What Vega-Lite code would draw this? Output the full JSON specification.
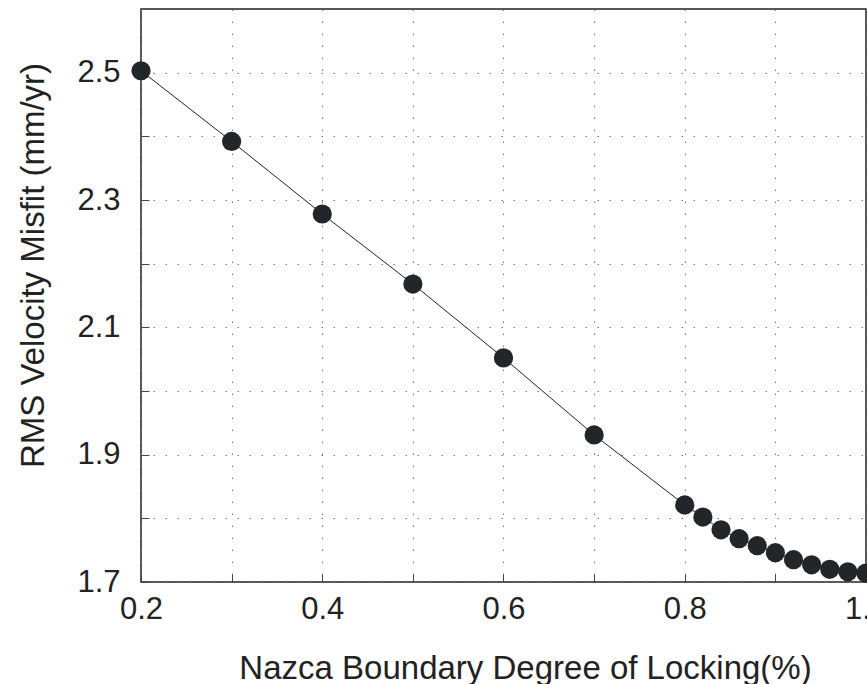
{
  "$schema": "https://vega.github.io/schema/vega-lite/v6.json",
  "width": 725,
  "height": 573,
  "autosize": {"type": "none"},
  "padding": {"left": 141, "top": 9, "right": 1, "bottom": 102},
  "background": "white",
  "config": {
    "view": {"stroke": "#222", "strokeWidth": 1.5},
    "font": "Liberation Sans",
    "axis": {
      "domain": false,
      "grid": true,
      "gridColor": "#777",
      "gridDash": [1.5, 10.5],
      "gridWidth": 1,
      "tickColor": "#444",
      "tickSize": -8,
      "tickWidth": 1,
      "labelFont": "Liberation Sans",
      "labelFontSize": 31,
      "labelColor": "#222",
      "titleFont": "Liberation Sans",
      "titleFontSize": 33,
      "titleFontWeight": "normal",
      "titleColor": "#222"
    }
  },
  "data": {
    "values": [
      {"lock": 0.2, "rms": 2.503},
      {"lock": 0.3, "rms": 2.392},
      {"lock": 0.4, "rms": 2.278},
      {"lock": 0.5, "rms": 2.168},
      {"lock": 0.6, "rms": 2.052},
      {"lock": 0.7, "rms": 1.931},
      {"lock": 0.8, "rms": 1.821},
      {"lock": 0.82, "rms": 1.802},
      {"lock": 0.84, "rms": 1.782},
      {"lock": 0.86, "rms": 1.768},
      {"lock": 0.88, "rms": 1.757},
      {"lock": 0.9, "rms": 1.746},
      {"lock": 0.92, "rms": 1.735},
      {"lock": 0.94, "rms": 1.727},
      {"lock": 0.96, "rms": 1.72},
      {"lock": 0.98, "rms": 1.716},
      {"lock": 1.0, "rms": 1.714}
    ]
  },
  "encoding": {
    "x": {
      "field": "lock",
      "type": "quantitative",
      "scale": {"domain": [0.2, 1.0], "nice": false, "zero": false},
      "axis": {
        "title": "Nazca Boundary Degree of Locking(%)",
        "values": [0.2, 0.3, 0.4, 0.5, 0.6, 0.7, 0.8, 0.9, 1.0],
        "labelExpr": "(round(datum.value*10) % 2 == 0) ? datum.label : ''",
        "labelPadding": 20,
        "labelBaseline": "top",
        "labelFlush": false,
        "titleX": 384,
        "titleY": 96,
        "titleBaseline": "alphabetic"
      }
    },
    "y": {
      "field": "rms",
      "type": "quantitative",
      "scale": {"domain": [1.7, 2.6], "nice": false, "zero": false},
      "axis": {
        "title": "RMS Velocity Misfit (mm/yr)",
        "values": [1.7, 1.8, 1.9, 2.0, 2.1, 2.2, 2.3, 2.4, 2.5],
        "labelExpr": "(round(datum.value*10) % 2 == 1) ? format(datum.value, '.1f') : ''",
        "labelPadding": 29,
        "labelFlush": false,
        "titleAngle": -90,
        "titleX": -98,
        "titleY": 256,
        "titleAlign": "center",
        "titleBaseline": "alphabetic"
      }
    }
  },
  "layer": [
    {"mark": {"type": "line", "color": "#222", "strokeWidth": 1}},
    {"mark": {"type": "circle", "size": 370, "color": "#222629", "opacity": 1, "clip": false}}
  ]
}
